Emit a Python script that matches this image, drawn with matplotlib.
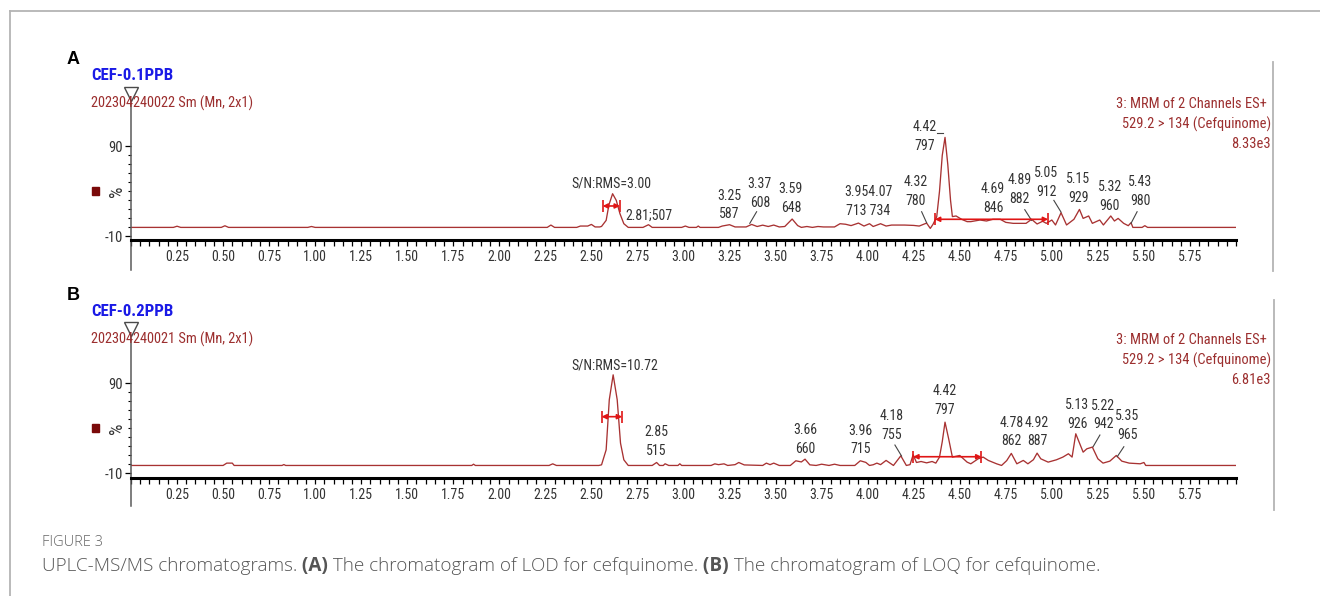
import matplotlib
matplotlib.use('Agg')
import matplotlib.pyplot as plt
from matplotlib import font_manager
from matplotlib.lines import Line2D
from matplotlib.patches import Rectangle
from matplotlib.ticker import MultipleLocator, FixedLocator

W, H = 1320, 596

installed = {f.name for f in font_manager.fontManager.ttflist}
NARROW = dict(family='DejaVu Sans', stretch='condensed')
for name in ('Liberation Sans Narrow', 'Arial Narrow', 'Roboto Condensed'):
    if name in installed:
        NARROW = dict(family=name)
        break

# ---- chromatogram A (0.1 ppb): (retention time / min, intensity / %)
trace_a = [(0.00, 0), (0.23, 0), (0.25, 1.3), (0.27, 0), (0.49, 0), (0.51, 1.8), (0.53, 0),
           (0.96, 0), (0.98, 1.0), (1.00, 0), (2.26, 0), (2.28, 2.6), (2.30, 0), (2.42, 0),
           (2.44, 1.5), (2.48, 1.5), (2.50, 3.3), (2.52, 0.5), (2.545, 0.5), (2.555, 1.1),
           (2.58, 7.8), (2.595, 25), (2.615, 37.4), (2.635, 30), (2.655, 15.2), (2.676, 4.1),
           (2.70, 0), (2.78, 0), (2.81, 3.0), (2.83, 0), (2.99, 0), (3.01, 1.5), (3.03, 0),
           (3.07, 0), (3.08, 1.5), (3.09, 0), (3.19, 0), (3.21, 1.5), (3.25, 3.0), (3.28, 0.5),
           (3.34, 0.5), (3.37, 3.3), (3.40, 1.0), (3.43, 2.5), (3.46, 1.0), (3.49, 2.6),
           (3.52, 0.5), (3.55, 1.0), (3.59, 9.3), (3.62, 2.0), (3.64, 0), (3.67, 1.0), (3.70, 0),
           (3.73, 1.0), (3.76, 0.5), (3.82, 0.5), (3.85, 4.1), (3.88, 3.5), (3.91, 2.0),
           (3.95, 4.8), (3.98, 1.5), (4.01, 4.1), (4.03, 1.0), (4.07, 4.1), (4.10, 1.5),
           (4.13, 2.6), (4.20, 2.6), (4.25, 2.2), (4.28, 1.5), (4.32, 4.8), (4.34, -1.1),
           (4.355, 3.5), (4.375, 11.9), (4.39, 40), (4.405, 80), (4.42, 100), (4.435, 70),
           (4.45, 30), (4.46, 12), (4.48, 12.7), (4.51, 9.0), (4.54, 6.4), (4.56, 6.4),
           (4.61, 8.2), (4.645, 7.1), (4.68, 9.0), (4.72, 9.0), (4.75, 5.6), (4.79, 4.5),
           (4.86, 4.5), (4.89, 9.0), (4.92, 3.8), (4.95, 6.8), (4.97, 4.5), (5.00, 8.2),
           (5.02, 2.7), (5.05, 16.3), (5.08, 2.7), (5.12, 9.0), (5.15, 20), (5.17, 10),
           (5.20, 12.7), (5.22, 4.5), (5.26, 8.2), (5.28, 2.7), (5.32, 12.7), (5.34, 7.1),
           (5.36, 10), (5.39, 4.5), (5.415, 1.9), (5.43, 5.2), (5.44, 0), (5.49, 0),
           (5.505, 1.9), (5.52, 0), (6.00, 0)]

# ---- chromatogram B (0.2 ppb)
trace_b = [(0.00, -1.4), (0.50, -1.4), (0.52, 1.2), (0.55, 1.2), (0.56, -1.4), (0.82, -1.4),
           (0.83, -0.4), (0.84, -1.4), (1.85, -1.4), (1.86, 0), (1.87, -1.4), (2.27, -1.4),
           (2.29, 0.4), (2.31, -1.4), (2.54, -1.4), (2.555, -0.7), (2.58, 16), (2.597, 71.6),
           (2.618, 99.3), (2.64, 71.6), (2.658, 23.4), (2.676, 4.9), (2.70, -1.4), (2.83, -1.4),
           (2.854, 1.9), (2.87, -1.4), (2.89, -1.4), (2.90, 0.45), (2.92, -1.4), (2.97, -1.4),
           (2.98, 0.45), (2.99, -1.4), (3.15, -1.4), (3.17, 0.4), (3.19, -0.5), (3.22, 0.4),
           (3.24, -1.4), (3.28, -0.5), (3.30, 1.9), (3.33, -0.8), (3.43, -1.4), (3.45, 1.2),
           (3.47, -0.5), (3.49, 1.2), (3.52, -1.4), (3.58, -1.4), (3.61, 3.8), (3.64, 2.5),
           (3.66, 5.6), (3.686, -0.7), (3.72, -1.4), (3.75, 0), (3.79, -1.4), (3.82, 0),
           (3.85, -1.4), (3.93, -1.4), (3.96, 3.8), (3.99, 2.0), (4.01, -1.4), (4.03, -0.6),
           (4.05, 1.2), (4.07, -0.5), (4.10, 4.2), (4.14, -1.4), (4.18, 9.3), (4.21, -1.4),
           (4.23, -0.5), (4.247, 10.5), (4.265, 1.9), (4.29, 3.0), (4.32, 1.5), (4.35, 3.0),
           (4.37, 1.2), (4.39, 7.9), (4.405, 25), (4.42, 46.7), (4.44, 28), (4.46, 7.9),
           (4.50, 9.7), (4.54, 2.3), (4.56, 0.45), (4.60, 6.0), (4.627, 7.9), (4.655, 4.2),
           (4.70, 0.45), (4.727, -1.4), (4.755, 4.0), (4.78, 12), (4.81, 0.45), (4.845, 4.2),
           (4.87, 0.45), (4.90, 5.0), (4.92, 12.3), (4.94, 6.0), (4.98, 2.3), (5.025, 4.9),
           (5.06, 7.9), (5.09, 11.6), (5.11, 7.9), (5.13, 33.8), (5.17, 13.4), (5.19, 17.1),
           (5.22, 19), (5.25, 6.0), (5.278, 1.2), (5.315, 3.4), (5.35, 9.7), (5.38, 3.4),
           (5.42, 1.2), (5.48, 0.45), (5.50, 1.9), (5.51, -1.4), (6.00, -1.4)]

labels_a = ['S/N:RMS=3.00', '2.81;507', '3.25\n587', '3.37\n608', '3.59\n648',
            '3.954.07\n713 734', '4.32\n780', '4.42\n797', '4.69\n846', '4.89\n882',
            '5.05\n912', '5.15\n929', '5.32\n960', '5.43\n980']
labels_b = ['S/N:RMS=10.72', '2.85\n515', '3.66\n660', '3.96\n715', '4.18\n755', '4.42\n797',
            '4.78\n862', '4.92\n887', '5.13\n926', '5.22\n942', '5.35\n965']

sample_a = 'CEF-0.1PPB'
sample_b = 'CEF-0.2PPB'
file_a = '202304240022 Sm (Mn, 2x1)'
file_b = '202304240021 Sm (Mn, 2x1)'
channel = ['3: MRM of 2 Channels ES+', '529.2 > 134 (Cefquinome)']
scale_a = '8.33e3'
scale_b = '6.81e3'

# ---- layout: label anchors (time, %) and leader lines
pos_a = [(2.611, 49.3, 'center'), (2.687, 12.7, 'left'), (3.248, 24.9, 'center'),
         (3.415, 37.4, 'center'), (3.583, 32.3, 'center'), (4.003, 28.6, 'center'),
         (4.262, 39.7, 'center'), (4.311, 101, 'center'), (4.681, 31.8, 'center'),
         (4.826, 41.9, 'center'), (4.971, 49.9, 'center'), (5.143, 43.4, 'center'),
         (5.315, 34.5, 'center'), (5.481, 39.7, 'center')]
leaders_a = [((3.397, 17.4), (3.36, 4.5)), ((4.293, 17.4), (4.32, 5.2)),
             ((4.378, 104.5), (4.41, 104.5)), ((4.853, 19.7), (4.89, 7.8)),
             ((5.011, 30), (5.05, 17)), ((5.463, 17.4), (5.43, 4.5))]
bars_a = [(2.561, 2.655, 23.8), (4.365, 4.98, 9.0)]

pos_b = [(2.624, 110.2, 'center'), (2.854, 25.4, 'center'), (3.659, 27.7, 'center'),
         (3.963, 26.9, 'center'), (4.13, 43.2, 'center'), (4.419, 71, 'center'),
         (4.781, 35.6, 'center'), (4.92, 35.6, 'center'), (5.137, 55.2, 'center'),
         (5.279, 54.7, 'center'), (5.411, 43, 'center')]
leaders_b = [((4.148, 21.3), (4.184, 9.1)), ((5.261, 32.4), (5.224, 19.4)),
             ((5.391, 19.4), (5.355, 8.3))]
bars_b = [(2.555, 2.667, 52.8), (4.247, 4.618, 8.3)]

TRACE = '#a83232'
HEAD = '#9c2f2f'
INK = '#333333'
BLUE = '#1a1ae6'
FRAME = '#b4b4b4'


def px(x, y):
    return x / W, 1 - y / H


fig = plt.figure(figsize=(W / 100, H / 100), dpi=100)
fig.patch.set_facecolor('white')
renderer = fig.canvas.get_renderer()


def fit(text, width, **kw):
    # font size that makes `text` span `width` pixels in the narrow face
    probe = fig.text(0, 0, text, fontsize=10, **NARROW, **kw)
    w = probe.get_window_extent(renderer).width
    probe.remove()
    return 10 * width / w


FS_PEAK = fit('S/N:RMS=3.00', 80)
FS_SAMPLE = fit(sample_a, 82, fontweight='bold')
FS_FILE = fit(file_a, 162)
FS_CHAN = fit(channel[0], 150)


def panel(top_px, bottom_px, ylo, trace, labels, pos, leaders, bars,
          letter, sample, fname, scale, head_y, stem_px):
    x0, x1 = 131, 1236
    ax = fig.add_axes([x0 / W, 1 - bottom_px / H, (x1 - x0) / W, (bottom_px - top_px) / H])
    yhi = ylo + (bottom_px - top_px) / 0.9
    ax.set_xlim(0, 6.0)
    ax.set_ylim(ylo, yhi)
    ax.patch.set_alpha(0)

    t = [p[0] for p in trace]
    v = [p[1] for p in trace]
    ax.plot(t, v, color=TRACE, lw=0.95, solid_joinstyle='round')

    for spine in ('top', 'right', 'left'):
        ax.spines[spine].set_visible(False)
    ax.spines['bottom'].set_linewidth(2.2)
    ax.spines['bottom'].set_color('black')

    # y axis line running from the marker down past the time axis
    stem = -(stem_px - bottom_px) / (bottom_px - top_px)
    ax.plot([0, 0], [stem, 1], color='#5a5a5a', lw=1.1, transform=ax.transAxes, clip_on=False)
    ax.plot(0, 1, marker='v', ms=10, mfc='white', mec='#4a4a4a', mew=1.0,
            transform=ax.transAxes, clip_on=False, zorder=5)

    ax.xaxis.set_major_locator(FixedLocator([0.25 * i for i in range(1, 24)]))
    ax.xaxis.set_minor_locator(MultipleLocator(0.05))
    ax.tick_params(axis='x', which='both', direction='out', length=4, width=0.9,
                   color='black', pad=3.5)
    ax.tick_params(axis='x', which='major', labelsize=FS_PEAK, labelcolor=INK)
    ax.set_xticklabels(['%.2f' % (0.25 * i) for i in range(1, 24)], **NARROW)

    ax.yaxis.set_major_locator(FixedLocator([-10, 90]))
    ax.yaxis.set_minor_locator(FixedLocator(list(range(0, 90, 10))))
    ax.tick_params(axis='y', which='major', length=4, width=0.9, pad=1.5,
                   labelsize=FS_PEAK + 0.5, labelcolor=INK)
    ax.tick_params(axis='y', which='minor', length=2.5, width=0.8)
    ax.set_yticklabels(['-10', '90'], **NARROW)

    for text, (lx, ly, ha) in zip(labels, pos):
        ax.text(lx, ly, text, ha=ha, va='center', fontsize=FS_PEAK, color=INK,
                linespacing=1.42, **NARROW)
    for (a, b) in leaders:
        ax.plot([a[0], b[0]], [a[1], b[1]], color='#444444', lw=0.8)
    for (b0, b1, by) in bars:
        ax.annotate('', xy=(b0, by), xytext=(b1, by),
                    arrowprops=dict(arrowstyle='<|-|>', color='#e01515', lw=1.2,
                                    mutation_scale=7, shrinkA=0, shrinkB=0))
        ax.plot([b0, b1], [by, by], ls='none', marker='|', ms=8, mew=1.2, color='#e01515')

    # header block
    fig.text(*px(73.5, head_y - 16), letter, fontsize=13, fontweight='bold',
             family='Liberation Sans', ha='center', va='center', color='black')
    fig.text(*px(91, head_y), sample, fontsize=FS_SAMPLE, fontweight='bold', color=BLUE,
             ha='left', va='center', **NARROW)
    fig.text(*px(91, head_y + 27.5), fname, fontsize=FS_FILE, color=HEAD,
             ha='left', va='center', **NARROW)
    fig.text(*px(1267, head_y + 27.5), channel[0], fontsize=FS_CHAN, color=HEAD,
             ha='right', va='center', **NARROW)
    fig.text(*px(1271, head_y + 48.5), channel[1], fontsize=FS_CHAN, color=HEAD,
             ha='right', va='center', **NARROW)
    fig.text(*px(1271, head_y + 68.5), scale, fontsize=FS_CHAN, color=HEAD,
             ha='right', va='center', **NARROW)

    pct_y = bottom_px - (40 - ylo) * 0.9
    fig.text(*px(117, pct_y), '%', fontsize=FS_PEAK * 1.3, rotation=90, color=INK,
             ha='center', va='center', **NARROW)
    fig.patches.append(Rectangle(px(92, pct_y + 4), 7 / W, 8 / H, transform=fig.transFigure,
                                 color='#7a0a0a', figure=fig))
    return ax


panel(94, 240, -14, trace_a, labels_a, pos_a, leaders_a, bars_a,
      'A', sample_a, file_a, scale_a, 76, 270)
panel(329, 477.7, -15, trace_b, labels_b, pos_b, leaders_b, bars_b,
      'B', sample_b, file_b, scale_b, 312, 506)

# outer frame of the figure panel
for (xa, ya), (xb, yb) in [((9.5, 11), (1320, 11)), ((9.5, 11), (9.5, 596)),
                           ((1273, 62), (1273, 271)), ((1274, 300), (1274, 510))]:
    fig.lines.append(Line2D([xa / W, xb / W], [1 - ya / H, 1 - yb / H],
                            transform=fig.transFigure, color=FRAME, lw=1.3))

# caption
fig.text(*px(42, 542), 'FIGURE 3', fontsize=10.5, color='#666666', family='Open Sans',
         fontweight='light', ha='left', va='center')
parts = [('UPLC-MS/MS chromatograms.', 'light'), (' (A)', 'bold'),
         (' The chromatogram of LOD for cefquinome.', 'light'), (' (B)', 'bold'),
         (' The chromatogram of LOQ for cefquinome.', 'light')]
cx = 42
for text, weight in parts:
    t = fig.text(*px(cx, 566), text, fontsize=13.6, color='#555555', family='Open Sans',
                 fontweight=weight, ha='left', va='center')
    cx += t.get_window_extent(renderer).width

fig.savefig('out.png', dpi=100, facecolor='white')
